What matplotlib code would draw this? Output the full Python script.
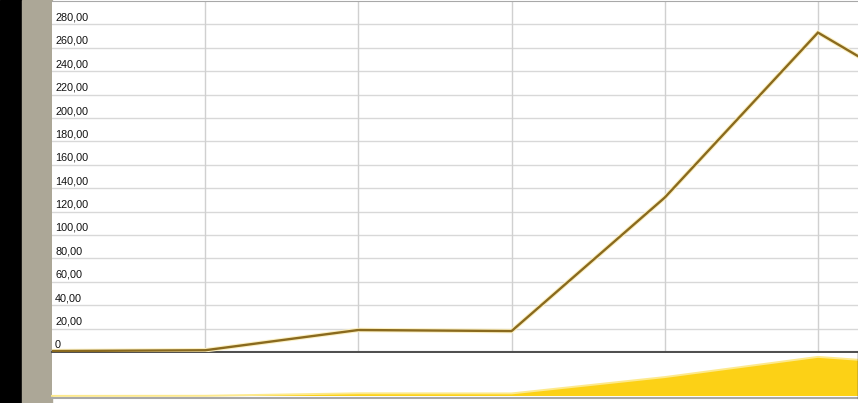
import matplotlib
matplotlib.use("Agg")
import matplotlib.pyplot as plt
import matplotlib.patheffects as pe
from matplotlib.patches import Rectangle
import numpy as np

# Data
periods = [0, 1, 2, 3, 4, 5, 6]
values = [0.8, 1.5, 18.8, 17.9, 132.0, 273.0, 196.0]
ytick_values = [0, 20, 40, 60, 80, 100, 120, 140, 160, 180, 200, 220, 240, 260, 280]

def fmt(v):
    return "0" if v == 0 else f"{v:.2f}".replace(".", ",")

ytick_labels = [fmt(v) for v in ytick_values]

W, H = 858, 403
fig = plt.figure(figsize=(W / 100, H / 100), dpi=100)
fig.patch.set_facecolor("white")

# side strips
fig.add_artist(Rectangle((0, 0), 22 / W, 1, transform=fig.transFigure, color="black", zorder=0))
fig.add_artist(Rectangle((22 / W, 0), 30 / W, 1, transform=fig.transFigure, color="#aca797", zorder=0))

x0 = 52 / W
xmax = 5 + 40 / 153

# main axes
top_px, bot_px = 1, 352
ax = fig.add_axes([x0, 1 - bot_px / H, 1 - x0, (bot_px - top_px) / H])
ax.set_xlim(0, xmax)
ax.set_ylim(0, 300)
for yv in ytick_values[1:]:
    ax.axhline(yv, color="#d8d8d8", lw=1, zorder=1)
for xv in periods[1:6]:
    ax.axvline(xv, color="#d0d0d0", lw=1, zorder=1)
ax.plot(periods, values, color="#8a6a1e", lw=1.7, zorder=3, solid_joinstyle="miter",
        path_effects=[pe.Stroke(linewidth=3.2, foreground="#fbefc0"), pe.Normal()])
for yv, lab in zip(ytick_values, ytick_labels):
    ax.annotate(lab, xy=(0, yv), xycoords=("axes fraction", "data"),
                xytext=(3, 2), textcoords="offset pixels", ha="left", va="bottom",
                fontsize=7.8, family="Liberation Sans", color="#111111", zorder=4)
ax.set_xticks([])
ax.set_yticks([])
for s in ax.spines.values():
    s.set_visible(False)
ax.spines["top"].set_visible(True)
ax.spines["top"].set_color("#a8a8a8")
ax.spines["bottom"].set_visible(True)
ax.spines["bottom"].set_color("#505050")
ax.spines["bottom"].set_linewidth(1.5)

# navigator
ntop, nbot = 353, 396
nav = fig.add_axes([x0, 1 - nbot / H, 1 - x0, (nbot - ntop) / H])
nav.set_xlim(0, xmax)
nav.set_ylim(0, 300)
nav.fill_between(periods, values, 0, color="#fcd116", lw=0, zorder=2)
nav.plot(periods, values, color="#fde98c", lw=1.4, zorder=3, clip_on=False)
nav.set_xticks([])
nav.set_yticks([])
for s in nav.spines.values():
    s.set_visible(False)

# bottom gray line and right border
fig.add_artist(plt.Line2D([x0, 1], [1 - 398 / H, 1 - 398 / H], transform=fig.transFigure,
                          color="#a8a8a8", lw=1.5))
fig.add_artist(plt.Line2D([857.5 / W, 857.5 / W], [1 - 398 / H, 1 - 352 / H], transform=fig.transFigure,
                          color="#404040", lw=1))

fig.savefig("out.png", dpi=100)
